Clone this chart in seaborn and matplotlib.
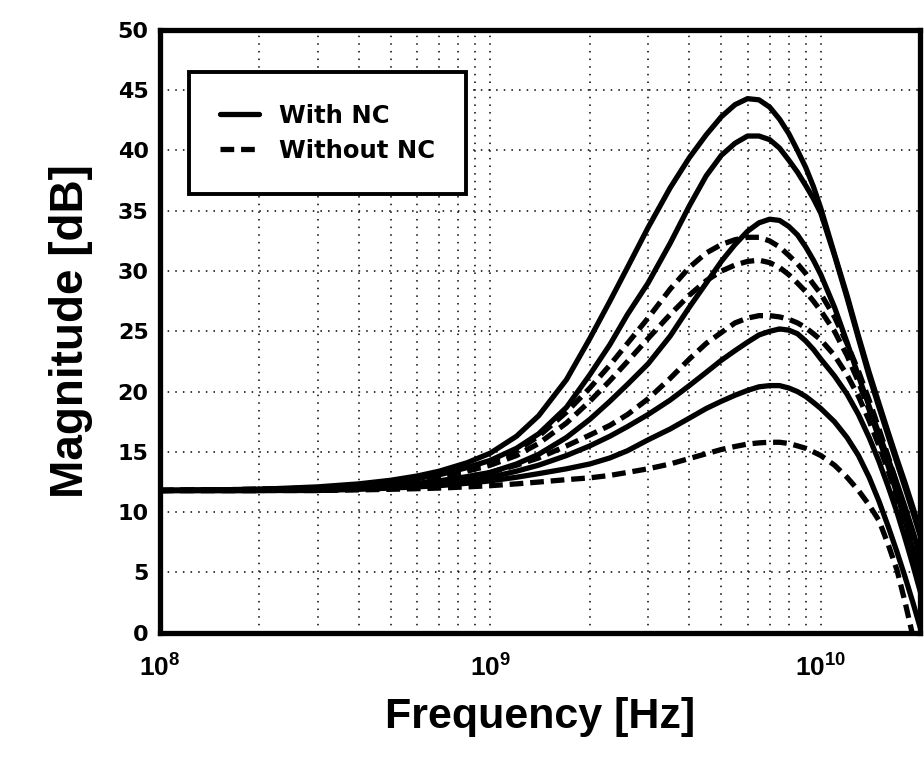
import math
import pandas as pd
import matplotlib.pyplot as plt
import matplotlib.ticker as mticker
from matplotlib.lines import Line2D
import seaborn as sns

freqs = [1e8, 2e8, 3e8, 4e8, 5e8, 6e8, 7e8, 8.5e8, 1e9, 1.2e9,
         1.4e9, 1.7e9, 2e9, 2.3e9, 2.6e9, 3e9, 3.5e9, 4e9, 4.5e9, 5e9,
         5.5e9, 6e9, 6.5e9, 7e9, 7.5e9, 8e9, 8.5e9, 9e9, 9.5e9, 1e10,
         1.1e10, 1.2e10, 1.3e10, 1.4e10, 1.5e10, 1.6e10, 1.7e10, 1.8e10, 1.9e10, 2e10]

# With NC (solid curves) [dB]
nc_1 = [11.8, 11.9, 12.1, 12.35, 12.65, 13.0, 13.4, 14.1, 14.9, 16.3,
        18.0, 21.0, 24.4, 27.5, 30.3, 33.6, 36.9, 39.4, 41.3, 42.8,
        43.8, 44.3, 44.2, 43.6, 42.6, 41.4, 40.0, 38.6, 37.0, 35.2,
        31.4, 28.0, 24.6, 21.6, 19.0, 16.6, 14.4, 12.4, 10.4, 8.4]
nc_2 = [11.8, 11.9, 12.0, 12.25, 12.5, 12.8, 13.1, 13.7, 14.3, 15.3,
        16.5, 18.7, 21.4, 23.9, 26.4, 29.0, 32.3, 35.4, 37.9, 39.6,
        40.6, 41.2, 41.2, 40.9, 40.2, 39.2, 38.2, 37.1, 36.0, 34.8,
        31.3, 27.8, 24.4, 21.3, 18.7, 16.3, 14.1, 12.0, 10.0, 8.0]
nc_3 = [11.8, 11.8, 11.9, 12.05, 12.2, 12.4, 12.6, 12.95, 13.3, 14.0,
        14.8, 16.2, 17.7, 19.2, 20.6, 22.3, 24.6, 27.0, 29.0, 30.8,
        32.2, 33.3, 34.0, 34.3, 34.2, 33.7, 33.0, 32.0, 30.9, 29.7,
        27.0, 24.1, 21.3, 18.8, 16.5, 14.4, 12.4, 10.4, 8.4, 6.4]
nc_4 = [11.8, 11.8, 11.9, 12.0, 12.1, 12.25, 12.4, 12.65, 12.9, 13.4,
        13.9, 14.7, 15.5, 16.3, 17.1, 18.1, 19.3, 20.5, 21.6, 22.6,
        23.4, 24.1, 24.7, 25.0, 25.2, 25.1, 24.8, 24.2, 23.5, 22.7,
        21.3, 19.8, 18.1, 16.2, 14.2, 12.1, 10.0, 7.8, 5.6, 3.4]
nc_5 = [11.8, 11.8, 11.8, 11.9, 12.0, 12.1, 12.2, 12.4, 12.6, 12.9,
        13.2, 13.6, 14.0, 14.5, 15.1, 16.0, 16.9, 17.8, 18.6, 19.2,
        19.7, 20.1, 20.4, 20.5, 20.5, 20.3, 20.0, 19.6, 19.1, 18.6,
        17.5, 16.2, 14.7, 12.9, 10.9, 8.8, 6.7, 4.6, 2.5, 0.4]

# Without NC (dashed curves) [dB]
wo_1 = [11.8, 11.9, 12.0, 12.2, 12.4, 12.7, 13.0, 13.6, 14.2, 15.1,
        16.3, 18.3, 20.3, 22.2, 24.0, 26.1, 28.5, 30.3, 31.5, 32.2,
        32.6, 32.8, 32.8, 32.5, 32.0, 31.3, 30.6, 29.8, 28.9, 28.1,
        26.2, 24.0, 21.7, 19.3, 16.9, 14.6, 12.3, 10.0, 7.8, 5.6]
wo_2 = [11.8, 11.9, 12.0, 12.15, 12.35, 12.6, 12.9, 13.4, 13.9, 14.7,
        15.7, 17.4, 19.2, 20.9, 22.5, 24.4, 26.4, 28.0, 29.2, 30.0,
        30.5, 30.8, 30.9, 30.7, 30.3, 29.7, 29.0, 28.3, 27.5, 26.7,
        25.0, 23.0, 20.8, 18.5, 16.1, 13.8, 11.5, 9.2, 7.0, 4.8]
wo_3 = [11.8, 11.8, 11.9, 12.0, 12.15, 12.35, 12.55, 12.9, 13.3, 13.9,
        14.5, 15.5, 16.4, 17.2, 18.1, 19.4, 21.1, 22.7, 24.0, 24.9,
        25.7, 26.1, 26.3, 26.3, 26.2, 26.0, 25.7, 25.3, 24.8, 24.3,
        23.0, 21.4, 19.6, 17.6, 15.5, 13.4, 11.2, 9.0, 6.8, 4.6]
wo_4 = [11.8, 11.8, 11.8, 11.85, 11.9, 11.95, 12.0, 12.1, 12.2, 12.35,
        12.5, 12.7, 12.85, 13.05, 13.3, 13.6, 14.0, 14.45, 14.85, 15.2,
        15.45, 15.65, 15.75, 15.8, 15.8, 15.7, 15.5, 15.3, 15.0, 14.7,
        13.9, 12.9, 11.8, 10.6, 9.3, 7.3, 5.2, 2.5, -0.3, -2.5]

with_nc = [nc_1, nc_2, nc_3, nc_4, nc_5]
without_nc = [wo_1, wo_2, wo_3, wo_4]

# Build a long-form table
rows = []
for i, mags in enumerate(with_nc):
    for f, m in zip(freqs, mags):
        rows.append({'Frequency': f, 'Magnitude': m, 'Curve': f'nc{i}', 'Type': 'With NC'})
for i, mags in enumerate(without_nc):
    for f, m in zip(freqs, mags):
        rows.append({'Frequency': f, 'Magnitude': m, 'Curve': f'wo{i}', 'Type': 'Without NC'})
df = pd.DataFrame(rows)

sns.set_style('white')
plt.rcParams['font.family'] = ['Liberation Sans', 'DejaVu Sans']
plt.rcParams['mathtext.fontset'] = 'custom'
plt.rcParams['mathtext.rm'] = 'Liberation Sans:bold'
plt.rcParams['mathtext.bf'] = 'Liberation Sans:bold'
plt.rcParams['text.color'] = 'black'
plt.rcParams['axes.labelcolor'] = 'black'
plt.rcParams['xtick.color'] = 'black'
plt.rcParams['ytick.color'] = 'black'

fig = plt.figure(figsize=(9.24, 7.67), dpi=100)
ax = fig.add_axes([0.173, 0.175, 0.823, 0.786])

dash_pattern = (2.6, 1.3)
sns.lineplot(data=df, x='Frequency', y='Magnitude', units='Curve', estimator=None,
             style='Type', dashes={'With NC': '', 'Without NC': dash_pattern},
             color='black', linewidth=3.8, legend=False, ax=ax)

ax.set_xscale('log')
ax.set_xlim(1e8, 2e10)
ax.set_ylim(0, 50)
ax.set_yticks(range(0, 51, 5))
ax.xaxis.set_major_locator(mticker.LogLocator(base=10))
ax.xaxis.set_minor_locator(mticker.LogLocator(base=10, subs=range(2, 10)))
ax.xaxis.set_minor_formatter(mticker.NullFormatter())
ax.xaxis.set_major_formatter(mticker.FuncFormatter(lambda v, p: r'$10^{%d}$' % round(math.log10(v))))

# dotted grid
grid_style = dict(color='black', linestyle=(0, (1, 4)), linewidth=1.1)
ax.grid(True, which='major', axis='both', **grid_style)
ax.grid(True, which='minor', axis='x', **grid_style)

for s in ax.spines.values():
    s.set_linewidth(3.8)
    s.set_color('black')

ax.tick_params(axis='y', which='major', direction='in', length=4, width=1.5, pad=8)
ax.tick_params(axis='x', which='major', direction='in', length=5, width=1.5,
               labelsize=19, pad=14)
ax.tick_params(axis='x', which='minor', direction='in', length=3, width=1.0)
for lbl in ax.get_yticklabels():
    lbl.set_fontfamily('DejaVu Sans')
    lbl.set_fontweight('bold')
    lbl.set_fontsize(16)

ax.set_xlabel('Frequency [Hz]', fontsize=31, fontweight='bold', labelpad=12)
ax.set_ylabel('Magnitude [dB]', fontsize=33, fontweight='bold', labelpad=18)

handles = [Line2D([], [], color='black', linewidth=3.8, linestyle='-'),
           Line2D([], [], color='black', linewidth=3.8, linestyle=(0, dash_pattern))]
leg = ax.legend(handles, ['With NC', 'Without NC'], loc='upper left',
                bbox_to_anchor=(0.038, 0.93), frameon=True, fancybox=False,
                prop={'family': 'DejaVu Sans', 'weight': 'bold', 'size': 17.5},
                handlelength=1.6, handletextpad=0.8, borderpad=1.3,
                labelspacing=0.45, borderaxespad=0)
leg.get_frame().set_edgecolor('black')
leg.get_frame().set_linewidth(2.8)
leg.get_frame().set_alpha(1)

fig.savefig('out.png', dpi=100)
